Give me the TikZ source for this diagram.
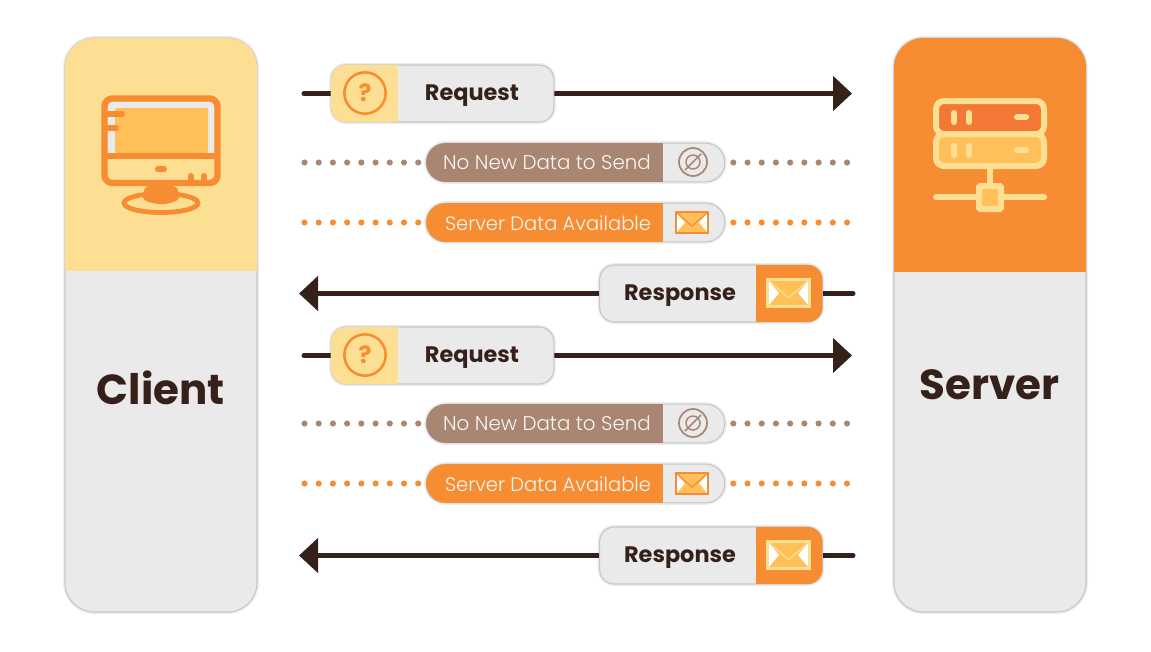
\documentclass[tikz,border=0pt]{standalone}
\usepackage{fontspec}
\setmainfont{Poppins}
\newfontfamily\lightface{Poppins Light}
\usetikzlibrary{positioning,shapes,shadows,arrows.meta,backgrounds}

\definecolor{inkbrown}{HTML}{35201A}
\definecolor{softbrown}{HTML}{A98672}
\definecolor{paleyellow}{HTML}{FDDF94}
\definecolor{midorange}{HTML}{F68D33}
\definecolor{lightorange}{HTML}{FFC05A}
\definecolor{redorange}{HTML}{F47835}
\definecolor{panelgrey}{HTML}{EAEAEA}
\definecolor{edgegrey}{HTML}{C6C6C6}

\tikzset{
  softedge/.style={draw=edgegrey,line width=0.8pt,outer sep=0pt,preaction={draw=black,opacity=0.07,line width=3pt}},
  panelbox/.style={softedge,fill=panelgrey,rounded corners=22pt,minimum width=144pt,minimum height=430.5pt,inner sep=0pt},
  bigbox/.style={softedge,fill=panelgrey,rounded corners=11pt,minimum width=167pt,minimum height=42.75pt,inner sep=0pt},
  thinbox/.style={softedge,fill=panelgrey,rounded corners=14.4pt,minimum width=224pt,minimum height=29pt,inner sep=0pt},
  paneltext/.style={font=\bfseries\fontsize{31.5}{32}\selectfont,text=inkbrown,inner sep=0pt},
  bigtext/.style={font=\bfseries\fontsize{16.8}{17}\selectfont,text=inkbrown,inner sep=0pt},
  thintext/.style={font=\lightface\fontsize{14.9}{15}\selectfont,text=white!92!softbrown,inner sep=0pt},
  datatext/.style={font=\lightface\fontsize{14.6}{15}\selectfont,text=white!92!softbrown,inner sep=0pt},
  flowline/.style={draw=inkbrown,line width=3.75pt,line cap=round},
  flowtip/.style={flowline,-{Triangle[length=14.25pt,width=25.5pt]}},
  dotline/.style={line width=4.6pt,line cap=round,dash pattern=on 0pt off 10.66pt},
  queryring/.style={circle,draw=midorange,line width=1.9pt,minimum size=31pt,inner sep=0pt,text=midorange,font=\bfseries\fontsize{18}{18}\selectfont},
  iconline/.style={line width=4.5pt,line cap=round}
}

% letter icon: x, y, half width, half height, rim colour, rim width
\newcommand{\lettericon}[6]{
  \fill [lightorange] (#1-#3,#2-#4) rectangle (#1+#3,#2+#4);
  \fill [white] (#1-#3,#2-#4) -- (#1-#3*0.45,#2) -- (#1-#3,#2+#4) -- cycle;
  \fill [white] (#1+#3,#2-#4) -- (#1+#3*0.45,#2) -- (#1+#3,#2+#4) -- cycle;
  \draw [#5,line width=0.9pt,line join=round] (#1-#3,#2-#4) -- (#1,#2+#4*0.35) -- (#1+#3,#2-#4);
  \draw [#5,line width=#6] (#1-#3,#2-#4) rectangle (#1+#3,#2+#4);
}
% no data icon: x, y
\newcommand{\blockicon}[2]{
  \draw [softbrown,line width=1.3pt] (#1,#2) circle [radius=14];
  \draw [softbrown,line width=1.1pt] (#1,#2) circle [radius=7];
  \draw [softbrown,line width=1.1pt] (#1-8,#2+8) -- (#1+8,#2-8);
}
% coloured part of a box: box, colour, from x, to x, corner radius
\newcommand{\boxpart}[5]{
  \begin{scope}
  \clip [rounded corners=#5] (#1.north west) rectangle (#1.south east);
  \fill [#2] (#3,0 |- #1.north) rectangle (#4,0 |- #1.south);
  \end{scope}
}

\begin{document}
\begin{tikzpicture}[x=0.75pt,y=-0.75pt]
\useasboundingbox (0,0) rectangle (1151,651);

% client panel
\node (client) [panelbox] at (161,325) {};
\begin{scope}
\clip [rounded corners=22pt] (client.north west) rectangle (client.south east);
\fill [paleyellow] (65,38) rectangle (257,271);
\end{scope}
\node (clientname) [paneltext] at (161,388) {Client};
\fill [panelgrey] (108,102) rectangle (214,153);
\fill [lightorange,rounded corners=1pt] (115,108) -- (208,108) -- (208,153) -- (115,153) -- cycle;
\draw [midorange,line width=3.6pt] (161,203) ellipse (37 and 9.5);
\fill [midorange,rounded corners=3pt] (145,186) -- (177,186) -- (180,199) to [bend left=25] (142,199) -- cycle;
\draw [midorange,line width=4.8pt,rounded corners=6pt] (104.5,98.5) rectangle (217.5,183);
\draw [midorange,line width=4.5pt] (104.5,156) -- (217.5,156);
\draw [midorange,iconline] (107,114) -- (122,114);
\draw [midorange,iconline] (107,128) -- (116,128);
\draw [midorange,iconline] (158,169) -- (164,169);
\draw [midorange,iconline] (191,182) -- (191,176);
\draw [midorange,iconline] (204,182) -- (204,176);

% server panel
\node (server) [panelbox] at (990,325) {};
\begin{scope}
\clip [rounded corners=22pt] (server.north west) rectangle (server.south east);
\fill [midorange] (894,38) rectangle (1086,272);
\end{scope}
\node (servername) [paneltext] at (989.5,385) {Server};
\draw [paleyellow,line width=4.5pt,fill=lightorange,rounded corners=6pt] (936,134) rectangle (1044,166);
\draw [paleyellow,line width=4.5pt,fill=redorange,rounded corners=6pt] (936,101) rectangle (1044,134);
\draw [paleyellow,iconline] (954,113) -- (954,122);
\draw [paleyellow,iconline] (969,113) -- (969,122);
\draw [paleyellow,iconline] (1017,117) -- (1026,117);
\draw [paleyellow,iconline] (954,146) -- (954,155);
\draw [paleyellow,iconline] (969,146) -- (969,155);
\draw [paleyellow,iconline] (1017,150) -- (1026,150);
\draw [paleyellow,line width=4.5pt] (990,168) -- (990,184);
\draw [paleyellow,iconline] (936,197) -- (1044,197);
\draw [paleyellow,line width=4.5pt,fill=lightorange,rounded corners=1pt] (979,186) rectangle (1001,209);

% first round
\node (reqAbox) [bigbox] at (442.5,93.5) {};
\boxpart{reqAbox}{paleyellow}{325}{398}{11pt}
\node (reqAicon) [queryring] at (365,93) {?};
\node (reqAtext) [bigtext] at (472,96) {Request};
\coordinate (reqAfrom) at (304,93.5);
\coordinate (reqAto) at (852,93.5);
\begin{scope}[on background layer]
\draw [flowline] (reqAfrom) -- (reqAbox);
\draw [flowtip] (reqAbox) -- (reqAto);
\end{scope}

\node (idleAbox) [thinbox] at (575.5,162.5) {};
\boxpart{idleAbox}{softbrown}{420}{663}{14.4pt}
\node (idleAtext) [thintext] at (547,162) {No New Data to Send};
\blockicon{693}{162}
\coordinate (idleAfrom) at (304.5,162.5);
\coordinate (idleAto) at (847,162.5);
\begin{scope}[on background layer]
\draw [softbrown,dotline] (idleAfrom) -- (idleAbox);
\draw [softbrown,dotline] (idleAto) -- (idleAbox);
\end{scope}

\node (dataAbox) [thinbox] at (575.5,222.5) {};
\boxpart{dataAbox}{midorange}{420}{663}{14.4pt}
\node (dataAtext) [datatext] at (548,223) {Server Data Available};
\lettericon{692}{222.5}{16}{10.5}{midorange}{1.4pt}
\coordinate (dataAfrom) at (304.5,222.5);
\coordinate (dataAto) at (847,222.5);
\begin{scope}[on background layer]
\draw [midorange,dotline] (dataAfrom) -- (dataAbox);
\draw [midorange,dotline] (dataAto) -- (dataAbox);
\end{scope}

\node (respAbox) [bigbox] at (711,293.5) {};
\boxpart{respAbox}{midorange}{756}{828}{11pt}
\node (respAtext) [bigtext] at (680,296) {Response};
\lettericon{788.5}{293}{21}{13.5}{paleyellow}{2.2pt}
\coordinate (respAfrom) at (853,293.5);
\coordinate (respAto) at (299,293.5);
\begin{scope}[on background layer]
\draw [flowline] (respAfrom) -- (respAbox);
\draw [flowtip] (respAbox) -- (respAto);
\end{scope}

% second round
\node (reqBbox) [bigbox] at (442.5,355.5) {};
\boxpart{reqBbox}{paleyellow}{325}{398}{11pt}
\node (reqBicon) [queryring] at (365,355) {?};
\node (reqBtext) [bigtext] at (472,358) {Request};
\coordinate (reqBfrom) at (304,355.5);
\coordinate (reqBto) at (852,355.5);
\begin{scope}[on background layer]
\draw [flowline] (reqBfrom) -- (reqBbox);
\draw [flowtip] (reqBbox) -- (reqBto);
\end{scope}

\node (idleBbox) [thinbox] at (575.5,423.5) {};
\boxpart{idleBbox}{softbrown}{420}{663}{14.4pt}
\node (idleBtext) [thintext] at (547,423) {No New Data to Send};
\blockicon{693}{423}
\coordinate (idleBfrom) at (304.5,423.5);
\coordinate (idleBto) at (847,423.5);
\begin{scope}[on background layer]
\draw [softbrown,dotline] (idleBfrom) -- (idleBbox);
\draw [softbrown,dotline] (idleBto) -- (idleBbox);
\end{scope}

\node (dataBbox) [thinbox] at (575.5,483.5) {};
\boxpart{dataBbox}{midorange}{420}{663}{14.4pt}
\node (dataBtext) [datatext] at (548,484) {Server Data Available};
\lettericon{692}{483.5}{16}{10.5}{midorange}{1.4pt}
\coordinate (dataBfrom) at (304.5,483.5);
\coordinate (dataBto) at (847,483.5);
\begin{scope}[on background layer]
\draw [midorange,dotline] (dataBfrom) -- (dataBbox);
\draw [midorange,dotline] (dataBto) -- (dataBbox);
\end{scope}

\node (respBbox) [bigbox] at (711,555.5) {};
\boxpart{respBbox}{midorange}{756}{828}{11pt}
\node (respBtext) [bigtext] at (680,558) {Response};
\lettericon{788.5}{555}{21}{13.5}{paleyellow}{2.2pt}
\coordinate (respBfrom) at (853,555.5);
\coordinate (respBto) at (299,555.5);
\begin{scope}[on background layer]
\draw [flowline] (respBfrom) -- (respBbox);
\draw [flowtip] (respBbox) -- (respBto);
\end{scope}
\end{tikzpicture}
\end{document}
